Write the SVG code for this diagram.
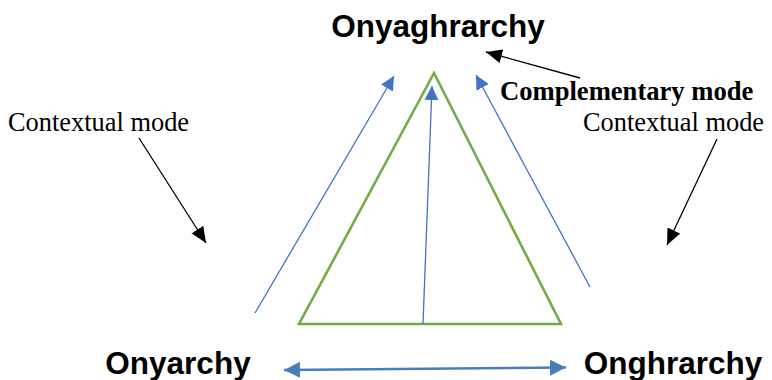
<svg xmlns="http://www.w3.org/2000/svg" width="772" height="380" viewBox="0 0 772 380">
<style>
.title{font-family:"Liberation Sans",Arial,sans-serif;font-weight:bold;font-size:31.5px;fill:#000}
.ctx{font-family:"Liberation Serif","Times New Roman",serif;font-size:26.4px;fill:#000}
.comp{font-family:"Liberation Serif","Times New Roman",serif;font-weight:bold;font-size:26.6px;fill:#000}
.blue{stroke:#4472C4;stroke-width:1.3;fill:none}
.blk{stroke:#000;stroke-width:1.3;fill:none}
</style>
<defs>
<marker id="ab" markerUnits="userSpaceOnUse" markerWidth="16" markerHeight="16" refX="14" refY="7" orient="auto">
<path d="M0,0 L14,7 L0,14 Z" fill="#4472C4"/>
</marker>
<marker id="ab2" markerUnits="userSpaceOnUse" markerWidth="18" markerHeight="18" refX="16" refY="8" orient="auto-start-reverse">
<path d="M0,0 L16,8 L0,16 Z" fill="#4a7ebb"/>
</marker>
<marker id="ak" markerUnits="userSpaceOnUse" markerWidth="18" markerHeight="16" refX="16" refY="7" orient="auto">
<path d="M0,0 L16,7 L0,14 Z" fill="#000"/>
</marker>
</defs>
<g id="triangle">
<polygon points="434,73 299,324 561,324" fill="none" stroke="#70AD47" stroke-width="2.6"/>
</g>
<g id="n-top"><text class="title" x="438" y="37" text-anchor="middle">Onyaghrarchy</text></g>
<g id="n-left"><text class="title" x="178" y="374" text-anchor="middle">Onyarchy</text></g>
<g id="n-right"><text class="title" x="673" y="374" text-anchor="middle">Onghrarchy</text></g>
<g id="l-ctx-left"><text class="ctx" x="8" y="131">Contextual mode</text></g>
<g id="l-ctx-right"><text class="ctx" x="583" y="131">Contextual mode</text></g>
<g id="l-comp"><text class="comp" x="500" y="100">Complementary mode</text></g>
<g id="connectors">
<line class="blue" x1="423" y1="324" x2="432" y2="86" marker-end="url(#ab)"/>
<line class="blue" x1="255" y1="313" x2="394" y2="76" marker-end="url(#ab)"/>
<line class="blue" x1="590" y1="287" x2="476" y2="75" marker-end="url(#ab)"/>
<line x1="284" y1="370" x2="566" y2="367.5" stroke="#4a7ebb" stroke-width="2.4" marker-start="url(#ab2)" marker-end="url(#ab2)"/>
<line class="blk" x1="139" y1="138" x2="206" y2="243" marker-end="url(#ak)"/>
<line class="blk" x1="717" y1="139" x2="667" y2="245" marker-end="url(#ak)"/>
<line class="blk" x1="580" y1="78" x2="486" y2="52" marker-end="url(#ak)"/>
</g>
</svg>
